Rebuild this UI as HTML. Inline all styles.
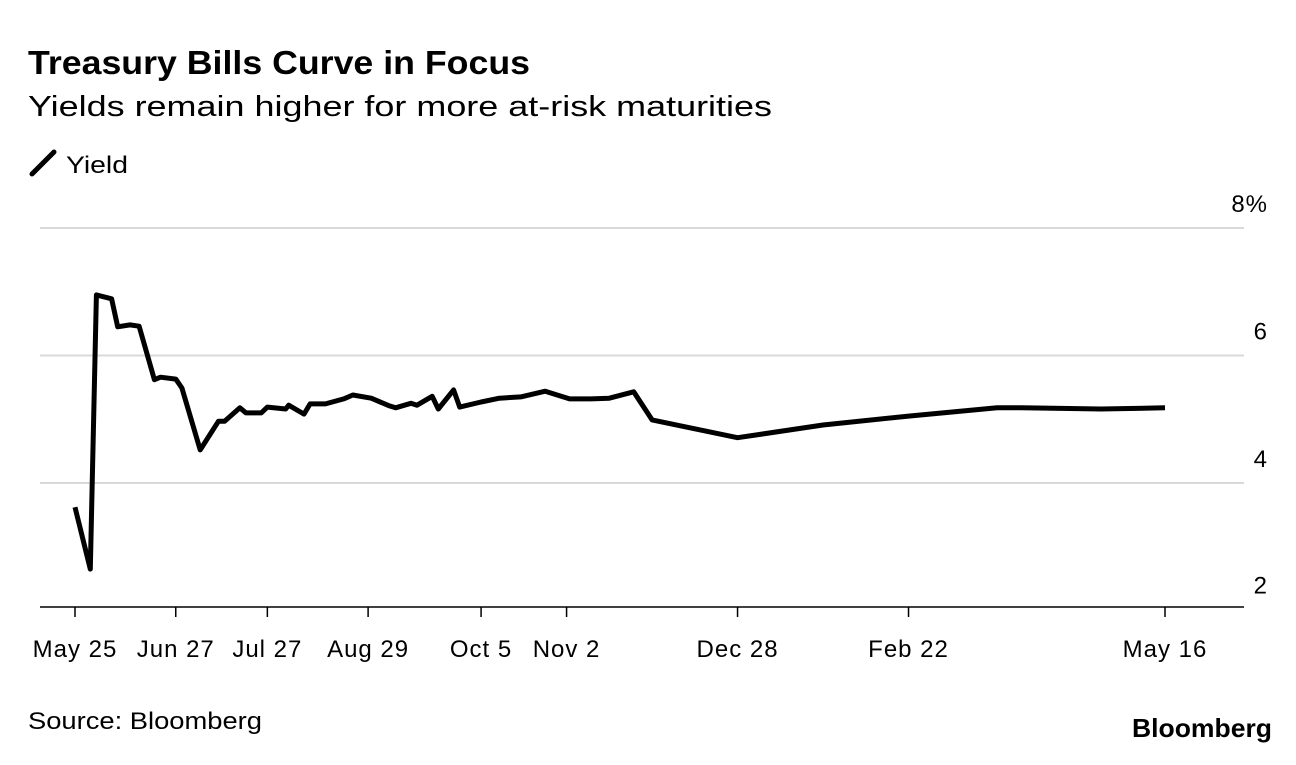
<!DOCTYPE html>
<html><head><meta charset="utf-8"><style>
body{margin:0;background:#fff;font-family:"Liberation Sans",sans-serif;}
svg text{font-family:"Liberation Sans",sans-serif;}
</style></head><body>
<svg id="chart" width="1296" height="760">
<text x="28" y="74" font-size="33" font-weight="bold" fill="#000" textLength="502" lengthAdjust="spacingAndGlyphs">Treasury Bills Curve in Focus</text>
<text x="28" y="116" font-size="29" fill="#000" textLength="744" lengthAdjust="spacingAndGlyphs">Yields remain higher for more at-risk maturities</text>
<g>
<line x1="32" y1="174" x2="54" y2="152" stroke="#000" stroke-width="5" stroke-linecap="round"/>
<text x="66" y="173" font-size="24" fill="#000" textLength="62" lengthAdjust="spacingAndGlyphs">Yield</text>
</g>
<g id="grid"></g><g id="xaxis"></g>
<path id="line" fill="none" stroke="#000" stroke-width="5" stroke-linejoin="round"/>
<text x="28" y="729" font-size="24" fill="#000" textLength="234" lengthAdjust="spacingAndGlyphs">Source: Bloomberg</text>
<text x="1132" y="737" font-size="26" font-weight="bold" fill="#000" textLength="140" lengthAdjust="spacingAndGlyphs">Bloomberg</text>
</svg>
<script>
const days=[0,5,7,12,14,18,21,26,28,33,35,41,47,49,54,56,61,63,69,70,75,77,82,88,91,97,103,105,110,112,117,119,124,126,133,139,146,154,162,169,175,183,189,217,245,273,302,310,336,357];
const yields=[3.62,2.65,6.95,6.89,6.45,6.48,6.46,5.62,5.66,5.63,5.49,4.52,4.97,4.97,5.18,5.10,5.10,5.19,5.16,5.22,5.08,5.24,5.24,5.32,5.38,5.33,5.21,5.18,5.25,5.22,5.36,5.16,5.46,5.19,5.27,5.33,5.35,5.44,5.32,5.32,5.33,5.43,4.99,4.71,4.91,5.05,5.18,5.18,5.16,5.18];
const yTicks=[2,4,6,8];
const yTickLabels=["2","4","6","8%"];
const xTickDays=[0,33,63,96,133,161,217,273,357];
const xTickLabels=["May 25","Jun 27","Jul 27","Aug 29","Oct 5","Nov 2","Dec 28","Feb 22","May 16"];
const NS="http://www.w3.org/2000/svg";
const X=d=>75+d*(1090/357);
const Y=v=>228+(8-v)*63.75;
const grid=document.getElementById('grid'),xa=document.getElementById('xaxis');
yTicks.forEach((v,i)=>{
  if(v>2){const l=document.createElementNS(NS,'line');
  
  
  l.setAttribute('x1',40);l.setAttribute('x2',1244);l.setAttribute('y1',Y(v));l.setAttribute('y2',Y(v));
  l.setAttribute('stroke','#d9d9d9');l.setAttribute('stroke-width',2);grid.appendChild(l);}
  const t=document.createElementNS(NS,'text');
  
  
  t.setAttribute('x',1268);t.setAttribute('y',(v>2?Y(v)-16:Y(v)-17));t.setAttribute('text-anchor','end');t.setAttribute('font-size',24);
  t.setAttribute('letter-spacing',1);
  t.textContent=yTickLabels[i];grid.appendChild(t);
});
const base=document.createElementNS(NS,'line');


base.setAttribute('x1',40);base.setAttribute('x2',1244);base.setAttribute('y1',607);base.setAttribute('y2',607);
base.setAttribute('stroke','#000');base.setAttribute('stroke-width',1.5);xa.appendChild(base);
xTickDays.forEach((d,i)=>{
  const l=document.createElementNS(NS,'line');
  
  
  l.setAttribute('x1',X(d));l.setAttribute('x2',X(d));l.setAttribute('y1',607);l.setAttribute('y2',617);
  l.setAttribute('stroke','#000');l.setAttribute('stroke-width',1.5);xa.appendChild(l);
  const t=document.createElementNS(NS,'text');
  
  
  t.setAttribute('x',X(d));t.setAttribute('y',657);t.setAttribute('text-anchor','middle');t.setAttribute('font-size',24);
  t.setAttribute('letter-spacing',1);
  t.textContent=xTickLabels[i];xa.appendChild(t);
});
document.getElementById('line').setAttribute('d',days.map((d,i)=>(i?'L':'M')+X(d).toFixed(1)+','+Y(yields[i]).toFixed(1)).join(''));
</script>
</body></html>
